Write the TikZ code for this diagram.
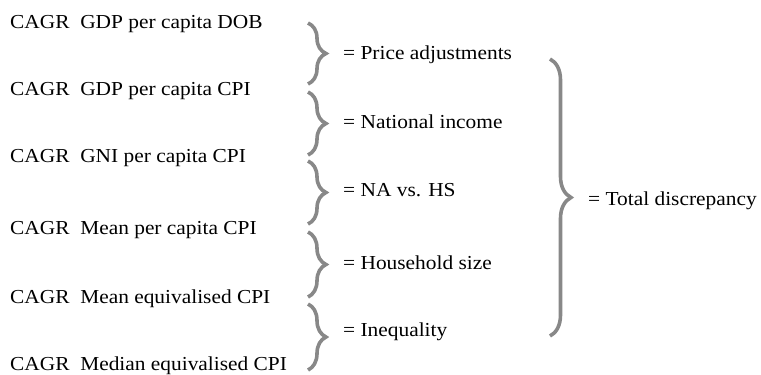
\documentclass[tikz,border=0pt]{standalone}
\usepackage{fontspec}
\setmainfont{Liberation Serif}[FakeStretch=1.08]
\usetikzlibrary{decorations.pathreplacing}
\definecolor{bracegray}{HTML}{888888}
\tikzset{
  lbl/.style={anchor=base west, inner sep=0pt, font=\fontsize{19.8}{23}\selectfont},
  bracestyle/.style={draw=bracegray, line width=3.6pt, decorate,
    decoration={brace, amplitude=#1}},
}
\begin{document}
\begin{tikzpicture}[x=1pt, y=-1pt]
\useasboundingbox (0,0) rectangle (761,375);
% left texts
\node[lbl] (r1) at (10,28) {CAGR\ \ GDP per capita DOB};
\node[lbl] (r2) at (10,95) {CAGR\ \ GDP per capita CPI};
\node[lbl] (r3) at (10,162) {CAGR\ \ GNI per capita CPI};
\node[lbl] (r4) at (10,234) {CAGR\ \ Mean per capita CPI};
\node[lbl] (r5) at (10,303) {CAGR\ \ Mean equivalised CPI};
\node[lbl] (r6) at (10,370) {CAGR\ \ Median equivalised CPI};
% brace end points
\coordinate (b1t) at (308,23);  \coordinate (b1b) at (308,84);
\coordinate (b2t) at (308,92);  \coordinate (b2b) at (308,155);
\coordinate (b3t) at (308,161); \coordinate (b3b) at (308,224);
\coordinate (b4t) at (308,232); \coordinate (b4b) at (308,297);
\coordinate (b5t) at (308,304); \coordinate (b5b) at (308,370);
\coordinate (bTt) at (550,59);  \coordinate (bTb) at (550,336);
\draw[bracestyle=18] (b1t) -- (b1b);
\draw[bracestyle=18] (b2t) -- (b2b);
\draw[bracestyle=18] (b3t) -- (b3b);
\draw[bracestyle=18] (b4t) -- (b4b);
\draw[bracestyle=18] (b5t) -- (b5b);
\draw[bracestyle=21] (bTt) -- (bTb);
% labels
\node[lbl] (l1) at (343,59) {= Price adjustments};
\node[lbl] (l2) at (343,128) {= National income};
\node[lbl] (l3) at (343,196) {= NA vs. HS};
\node[lbl] (l4) at (343,269) {= Household size};
\node[lbl] (l5) at (343,336) {= Inequality};
\node[lbl] (lT) at (588,205) {= Total discrepancy};
\end{tikzpicture}
\end{document}
